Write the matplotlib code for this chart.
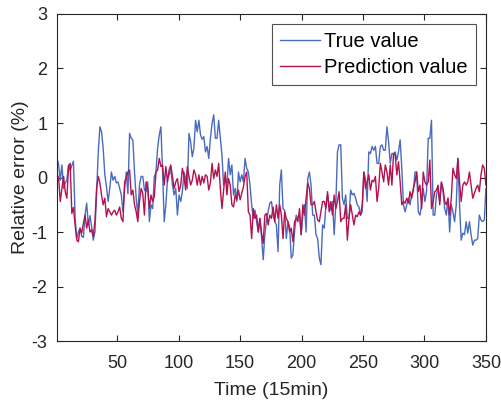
import numpy as np
import matplotlib
matplotlib.use("Agg")
import matplotlib.pyplot as plt

plt.rcParams['font.family'] = ['Liberation Sans', 'DejaVu Sans']
plt.rcParams['axes.unicode_minus'] = False

# relative error readings (%), equally spaced over the time axis
true_value = [
    # 1 - 58
    0.35, 0.24, -0.05, 0.23, -0.2, -0.1, -0.05, 0.23, 0.12, 0.22, 0.3, -0.75,
    -1.12, -1.0, -0.93, -1.08, -1.1, -0.69, -0.47, -0.87, -0.7, -0.9, -1.15, -1.0,
    -0.3, 0.45, 0.93, 0.84, 0.54, 0.05, -0.17, -0.44, -0.2, 0.1, -0.05, 0.02,
    -0.1, -0.08, -0.2, -0.32, -0.63, -0.2,
    # 59 - 117
    0.1, -0.3, 0.81, 0.72, 0.69, 0.1, -0.38, -0.69, -0.14, 0.02, 0.02, -0.23,
    -0.26, -0.08, -0.81, -0.5, -0.57, 0.02, 0.1, 0.54, 0.78, 0.93, 0.1, -0.81,
    -0.5, -0.02, 0.05, 0.17, -0.14, -0.32, -0.2, -0.69, -0.32, -0.44, -0.26, 0.1,
    -0.02, -0.2, 0.81, 0.66, 0.38, 0.54, 1.05, 0.84,
    # 118 - 176
    1.05, 0.78, 0.7, 0.75, 0.47, 0.57, 0.35, 0.72, 0.99, 1.15, 0.72, 0.72,
    1.05, 0.72, 0.41, -0.14, -0.02, -0.14, 0.35, 0.05, 0.23, -0.32, -0.2, -0.44,
    0.1, -0.08, 0.05, -0.08, 0.35, 0.17, 0.1, -0.14, -0.5, -0.75, -0.6, -0.8,
    -1.0, -0.75, -1.1, -1.51, -1.05, -0.78, -0.63, -0.47,
    # 177 - 235
    -0.44, -0.69, -0.81, -0.87, -1.36, -0.14, 0.14, -0.57, -0.6, -1.12, -0.81, -0.9,
    -1.48, -1.42, -1.0, -0.69, -0.75, -0.69, -1.05, -0.69, -0.5, -1.0, -0.02, 0.1,
    -0.14, -0.69, -0.69, -1.05, -1.12, -1.48, -1.6, -0.87, -0.93, -0.5, -0.32, -0.5,
    -0.6, -0.44, -1.05, -0.5, 0.47, 0.6, 0.6, -0.38,
    # 236 - 294
    -0.5, -0.32, -0.75, -0.75, -0.23, -0.32, -0.29, -0.38, -0.5, -0.54, -0.69, -0.63,
    0.1, -0.02, -0.44, 0.47, 0.44, 0.57, 0.5, 0.57, 0.26, 0.26, 0.57, 0.6,
    0.5, 0.5, 0.93, 0.66, 0.26, 0.44, 0.44, 0.47, 0.32, 0.47, 0.69, 0.17,
    -0.5, -0.63, -0.5, -0.38, -0.5, -0.32, -0.26, 0.1,
    # 295 - 350
    0.1, -0.63, -0.69, -0.5, -0.2, -0.44, -0.26, 0.72, 0.72, 1.05, -0.69, -0.69,
    -0.32, -0.2, -0.44, -0.1, -0.26, -0.57, -0.69, -0.38, -1.0, -0.5, -0.63, -0.81,
    -0.5, 0.35, -0.5, -1.15, -1.02, -1.05, -0.81, -1.02, -0.81, -1.05, -1.24, -1.15,
    -1.15, -1.12, -0.69, -0.78, -0.81, -0.78, -0.2,
]

prediction_value = [
    # 1 - 58
    0.08, -0.02, -0.44, -0.2, 0.02, -0.26, -0.38, 0.2, 0.26, -0.66, -0.55, -0.87,
    -1.15, -1.18, -0.93, -1.02, -0.84, -0.69, -0.93, -0.78, -1.0, -0.96, -1.08, -0.81,
    -0.2, 0.02, -0.1, -0.32, -0.5, -0.38, -0.72, -0.57, -0.63, -0.69, -0.63, -0.6,
    -0.69, -0.63, -0.54, -0.75, -0.81, -0.08,
    # 59 - 117
    -0.02, 0.1, 0.14, -0.32, -0.23, -0.5, -0.63, -0.81, -0.44, -0.2, -0.29, -0.69,
    -0.08, -0.2, -0.57, -0.32, -0.44, -0.35, 0.1, 0.14, 0.35, 0.2, 0.23, -0.14,
    0.2, -0.08, 0.14, 0.23, 0.02, -0.2, -0.08, -0.02, -0.26, -0.14, 0.17, 0.02,
    -0.23, 0.2, 0.02, -0.14, -0.05, 0.14, 0.05, -0.14,
    # 118 - 176
    0.05, -0.14, 0.02, -0.1, 0.05, 0.02, -0.23, -0.1, 0.26, -0.02, 0.14, 0.02,
    0.26, -0.2, -0.57, -0.23, 0.1, -0.32, -0.02, -0.14, -0.5, -0.54, -0.32, -0.41,
    -0.23, -0.41, -0.29, -0.17, 0.02, 0.1, -0.63, -0.69, -1.12, -0.57, -0.75, -0.69,
    -1.0, -0.75, -1.02, -1.21, -0.69, -0.66, -0.87, -0.69,
    # 177 - 235
    -0.75, -0.54, -0.81, -0.5, -0.75, -0.5, -0.69, -1.12, -0.63, -0.75, -0.81, -1.0,
    -0.93, -1.18, -0.81, -0.75, -0.81, -0.57, -1.05, -0.5, -0.69, -0.38, -0.1, -0.2,
    -0.5, -0.5, -0.44, -0.63, -0.78, -0.81, -0.63, -0.44, -0.44, -0.57, -0.26, -0.63,
    -0.44, -0.69, -0.32, -0.57, -0.44, -0.26, -0.81, -0.75,
    # 236 - 294
    -0.75, -0.5, -1.15, -0.75, -0.5, -0.69, -0.87, -0.69, -0.72, -0.63, -0.69, -0.5,
    0.1, -0.2, -0.08, 0.05, -0.23, -0.05, -0.08, 0.02, -0.44, -0.2, 0.26, 0.1,
    -0.08, 0.23, 0.1, -0.14, 0.23, -0.14, 0.44, 0.41, 0.05, 0.29, -0.08, -0.5,
    -0.44, -0.47, -0.38, -0.47, -0.26, -0.38, -0.2, -0.08,
    # 295 - 350
    0.1, -0.26, -0.14, -0.57, 0.1, -0.08, -0.14, -0.08, 0.32, -0.57, -0.44, -0.26,
    -0.23, -0.14, -0.5, -0.08, -0.2, -0.44, -0.5, -0.38, -0.69, -0.38, 0.17, 0.05,
    -0.02, 0.35, -0.08, -0.44, -0.14, -0.08, -0.14, -0.08, 0.1, -0.14, -0.38, -0.29,
    -0.2, -0.14, -0.26, 0.05, 0.23, 0.17, -0.14,
]

time = np.linspace(1, 350, len(true_value))
time_pred = np.linspace(1, 350, len(prediction_value))

fig = plt.figure(figsize=(5.02, 4.01), dpi=100)
ax = fig.add_axes([0.1135, 0.1496, 0.8545, 0.8155])

ax.plot(time, true_value, color='#4a6bbf', lw=1.0, label='True value')
ax.plot(time_pred, prediction_value, color='#b3124f', lw=1.0, label='Prediction value')

ax.set_xlim(1, 350)
ax.set_ylim(-3, 3)
ax.set_xticks([50, 100, 150, 200, 250, 300, 350])
ax.set_yticks([-3, -2, -1, 0, 1, 2, 3])

ax.set_xlabel('Time (15min)', fontsize=14, color='#262626', labelpad=7)
ax.set_ylabel('Relative error (%)', fontsize=14, color='#262626', labelpad=2)

ax.tick_params(direction='in', top=True, right=True, length=4, width=0.8,
               labelsize=13, colors='#262626')
ax.tick_params(axis='x', pad=10)
ax.tick_params(axis='y', pad=7)
for s in ax.spines.values():
    s.set_color('#262626')
    s.set_linewidth(0.8)

leg = ax.legend(loc='upper right', fontsize=14.5, frameon=True, fancybox=False,
                borderaxespad=0.5, handlelength=2.0, handletextpad=0.2,
                borderpad=0.4, labelspacing=0.35)
leg.get_frame().set_edgecolor('#262626')
leg.get_frame().set_linewidth(0.8)

fig.savefig('out.png', dpi=100)
